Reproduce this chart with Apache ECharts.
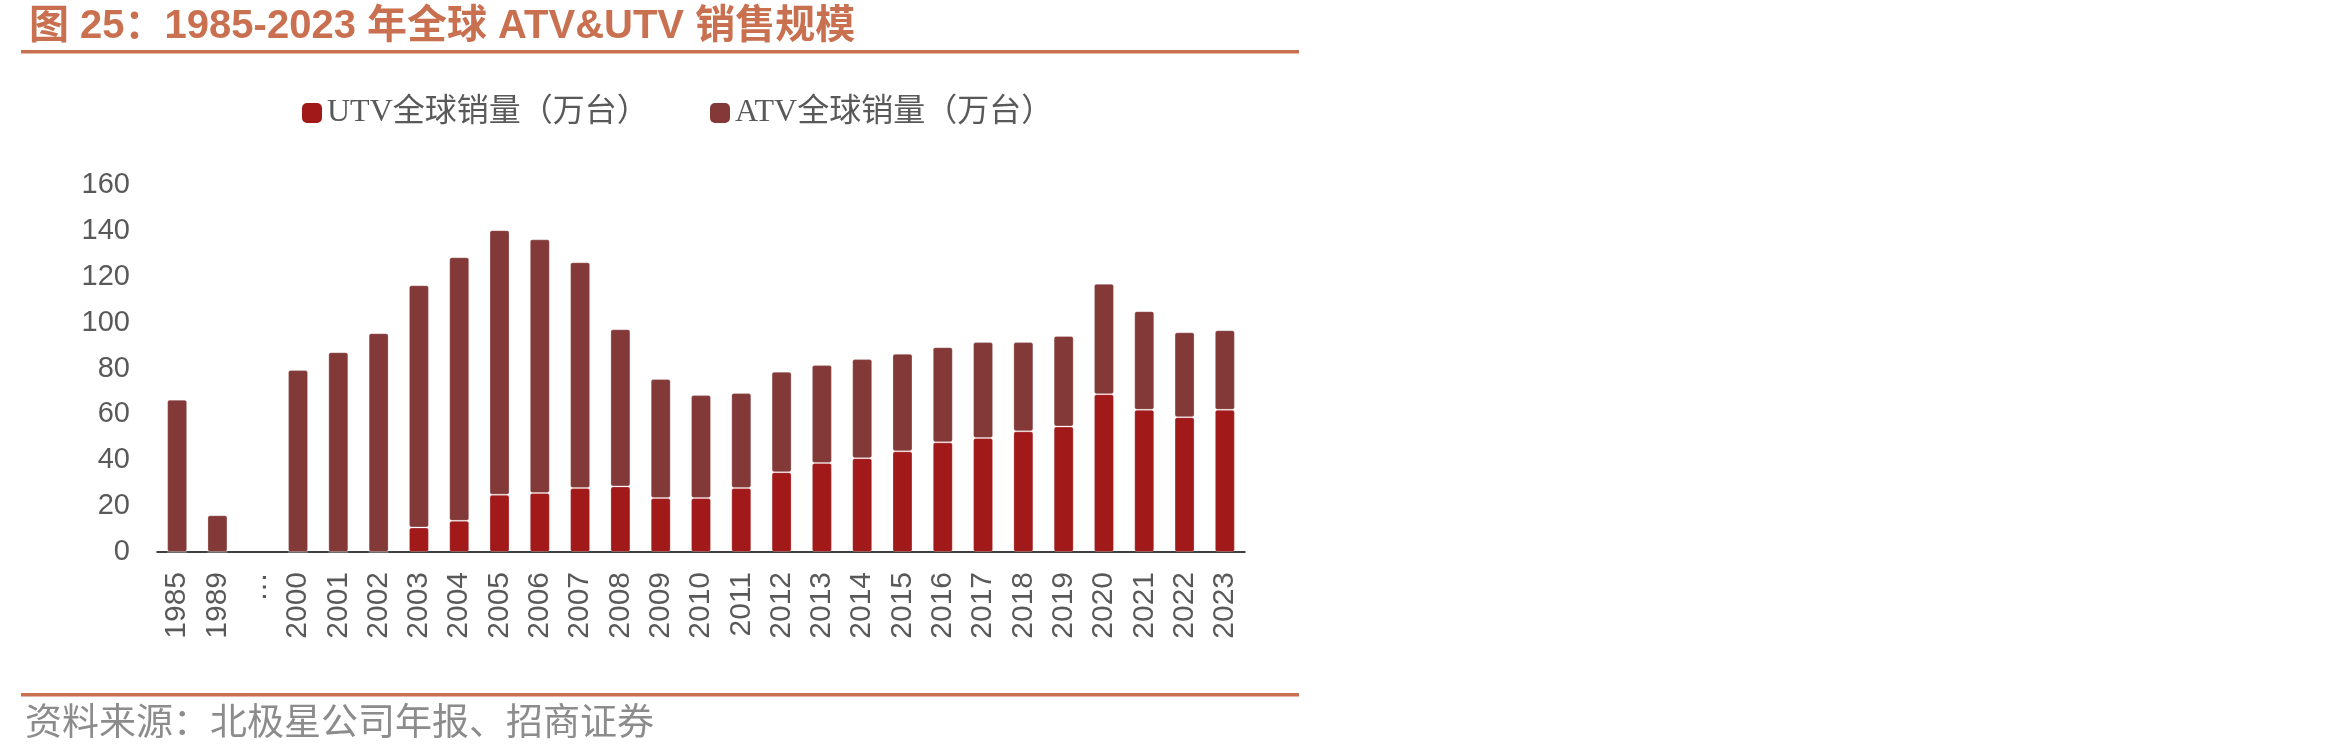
<!DOCTYPE html>
<html>
<head>
<meta charset="utf-8">
<script src="https://cdn.jsdelivr.net/npm/echarts@6/dist/echarts.min.js"></script>
<style>
  html, body { margin: 0; padding: 0; background: #fff; }
  #chart { width: 2350px; height: 755px; }
</style>
</head>
<body>
<div id="chart"></div>
<script>
// 年份（含省略号分隔）
var years = ['1985', '1989', '…', '2000', '2001', '2002', '2003', '2004', '2005', '2006', '2007',
  '2008', '2009', '2010', '2011', '2012', '2013', '2014', '2015', '2016', '2017', '2018',
  '2019', '2020', '2021', '2022', '2023'];

// UTV全球销量（万台）
var utvSales = [0, 0, '-', 0, 0, 0, 10.7, 13.6, 25.0, 25.7, 27.9,
  28.6, 23.5, 23.5, 27.9, 34.8, 38.8, 40.9, 43.9, 47.8, 49.7, 52.6,
  54.7, 68.8, 62.0, 58.8, 62.0];

// ATV全球销量（万台）
var atvSales = [66.4, 16.0, '-', 79.3, 87.1, 95.4, 105.6, 114.9, 115.3, 110.6, 98.4,
  68.5, 51.9, 44.9, 41.4, 43.8, 42.7, 43.2, 42.5, 41.5, 41.8, 38.9,
  39.5, 48.1, 43.0, 37.0, 34.7];

var yTicks = [0, 20, 40, 60, 80, 100, 120, 140, 160];

var chart = echarts.init(document.getElementById('chart'));

var labelColor = '#595959';
var accent = '#C8704F';

chart.setOption({
  animation: false,
  title: {
    text: '图 25：1985-2023 年全球 ATV&UTV 销售规模',
    left: 24,
    top: 2,
    textStyle: {
      color: accent,
      fontSize: 40,
      fontWeight: 'bold',
      fontFamily: 'Liberation Sans, Noto Sans CJK SC'
    }
  },
  legend: [
    {
      data: ['UTV全球销量（万台）'],
      left: 297,
      top: 92,
      icon: 'roundRect',
      itemWidth: 20,
      itemHeight: 20,
      itemStyle: { borderWidth: 0 },
      textStyle: { color: labelColor, fontSize: 32, fontFamily: 'Liberation Serif, Noto Sans CJK SC' }
    },
    {
      data: ['ATV全球销量（万台）'],
      left: 705,
      top: 92,
      icon: 'roundRect',
      itemWidth: 20,
      itemHeight: 20,
      itemStyle: { borderWidth: 0 },
      textStyle: { color: labelColor, fontSize: 32, fontFamily: 'Liberation Serif, Noto Sans CJK SC' }
    }
  ],
  grid: {
    left: 157,
    right: 1105,
    top: 185,
    bottom: 203,
    containLabel: false
  },
  xAxis: {
    type: 'category',
    data: years,
    axisLine: { lineStyle: { color: '#000', width: 1.5 } },
    axisTick: { inside: true, length: 9, lineStyle: { color: '#000', width: 1.5 } },
    axisLabel: {
      interval: 0,
      rotate: 90,
      margin: 20,
      color: labelColor,
      fontSize: 30,
      fontFamily: 'Liberation Sans, Arial'
    }
  },
  yAxis: {
    type: 'value',
    min: yTicks[0],
    max: yTicks[yTicks.length - 1],
    interval: 20,
    axisLine: { show: false },
    axisTick: { show: false },
    splitLine: { show: false },
    axisLabel: {
      margin: 27,
      color: labelColor,
      fontSize: 29,
      fontFamily: 'Liberation Sans, Arial'
    }
  },
  series: [
    {
      name: 'UTV全球销量（万台）',
      type: 'bar',
      stack: 'total',
      data: utvSales,
      barWidth: 20,
      itemStyle: {
        color: '#A11919',
        borderRadius: 2,
        borderColor: 'rgba(255,255,255,0.25)',
        borderWidth: 1
      }
    },
    {
      name: 'ATV全球销量（万台）',
      type: 'bar',
      stack: 'total',
      data: atvSales,
      barWidth: 20,
      itemStyle: {
        color: '#833938',
        borderRadius: 2,
        borderColor: 'rgba(255,255,255,0.25)',
        borderWidth: 1
      }
    }
  ],
  graphic: [
    {
      type: 'rect',
      shape: { x: 21, y: 50, width: 1278, height: 3.5 },
      style: { fill: accent }
    },
    {
      type: 'rect',
      shape: { x: 21, y: 693, width: 1278, height: 3.5 },
      style: { fill: accent }
    },
    {
      type: 'text',
      left: 25,
      top: 702,
      style: {
        text: '资料来源：北极星公司年报、招商证券',
        fill: '#8C8C8C',
        fontSize: 37,
        fontFamily: 'Noto Sans CJK SC'
      }
    }
  ]
});

window.addEventListener('resize', function () {
  chart.resize();
});
</script>
</body>
</html>
